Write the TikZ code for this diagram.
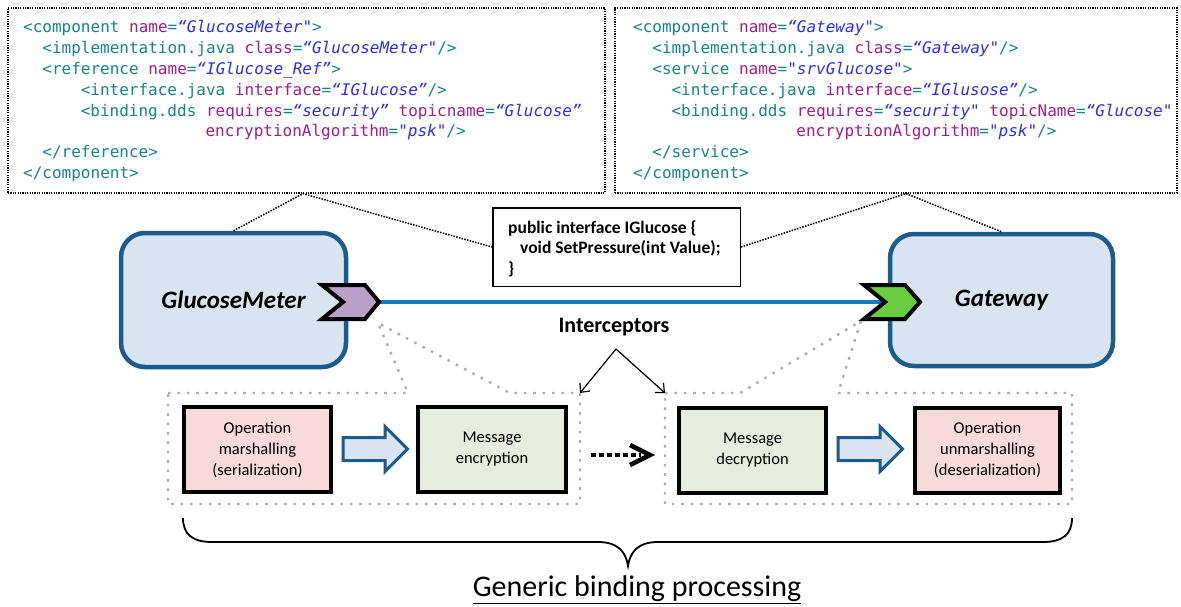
\documentclass[tikz,border=0pt]{standalone}
\usepackage{fontspec}
\setmainfont{Carlito}
\newfontfamily\codefont{DejaVu Sans Mono}
\usetikzlibrary{arrows.meta}
\definecolor{codeteal}{RGB}{22,132,132}
\definecolor{codemag}{RGB}{155,30,140}
\definecolor{codeblue}{RGB}{45,45,225}
\definecolor{compborder}{RGB}{28,92,140}
\definecolor{compfill}{RGB}{216,229,241}
\definecolor{connblue}{RGB}{24,122,190}
\definecolor{portpurple}{RGB}{186,160,200}
\definecolor{portgreen}{RGB}{104,206,64}
\definecolor{opfill}{RGB}{248,218,218}
\definecolor{msgfill}{RGB}{231,237,220}
\newcommand\xtag[1]{\textcolor{codeteal}{#1}}
\newcommand\xatt[1]{\textcolor{codemag}{#1}}
\newcommand\xval[1]{\textcolor{codeblue}{\itshape #1}}
\begin{document}
\begin{tikzpicture}[x=1pt,y=-1pt,
  codebox/.style={draw, dash pattern=on 1.2pt off 1.2pt, line width=1.2pt, minimum width=#1, minimum height=185, inner sep=0},
  codeline/.style={anchor=base west, inner sep=0, font=\codefont\fontsize{16}{20}\selectfont},
  compbox/.style={draw=compborder, fill=compfill, line width=4.5, rounded corners=24, inner sep=0},
  port/.style={draw=black, line width=4, line join=miter},
  conn/.style={draw=connblue, line width=4},
  blackdot/.style={dash pattern=on 1.5pt off 1.3pt, line width=1.5pt},
  callout/.style={draw=black!32, line width=2.4, dash pattern=on 2.6pt off 6.8pt},
  stepbox/.style={draw=black, line width=4, minimum height=85, inner sep=0, align=center, font=\fontsize{16.5}{21}\selectfont},
  blockarrow/.style={draw=compborder, fill=compfill, line width=3, line join=miter},
  pointer/.style={line width=1.2, -{Straight Barb[length=7pt,width=13pt,line width=1.2pt]}},
  ifline/.style={anchor=base west, inner sep=0, font=\bfseries\fontsize{17.5}{20}\selectfont}
]
\useasboundingbox (0,0) rectangle (1181,607);

% code boxes
\node[codebox=597] (codeL) at (306.5,100.5) {};
\node[codebox=562] (codeR) at (896,100.5) {};

\def\cw{9.6}
\node[codeline] (l1) at (23,32.5) {\xtag{<component} \xatt{name}\xtag{=}\xval{“GlucoseMeter"}\xtag{>}};
\node[codeline] (l2) at (23+2*\cw,53.4) {\xtag{<implementation.java} \xatt{class}\xtag{=}\xval{“GlucoseMeter"}\xtag{/>}};
\node[codeline] (l3) at (23+2*\cw,74.3) {\xtag{<reference} \xatt{name}\xtag{=}\xval{“IGlucose\_Ref”}\xtag{>}};
\node[codeline] (l4) at (23+6*\cw,95.2) {\xtag{<interface.java} \xatt{interface}\xtag{=}\xval{“IGlucose”}\xtag{/>}};
\node[codeline] (l5) at (23+6*\cw,116.1) {\xtag{<binding.dds} \xatt{requires}\xtag{=}\xval{“security”} \xatt{topicname}\xtag{=}\xval{“Glucose”}};
\node[codeline] (l6) at (23+19*\cw,137) {\xatt{encryptionAlgorithm}\xtag{=}\xval{"psk"}\xtag{/>}};
\node[codeline] (l7) at (23+2*\cw,157.9) {\xtag{</reference>}};
\node[codeline] (l8) at (23,178.8) {\xtag{</component>}};

\node[codeline] (r1) at (633,32.5) {\xtag{<component} \xatt{name}\xtag{=}\xval{“Gateway"}\xtag{>}};
\node[codeline] (r2) at (633+2*\cw,53.4) {\xtag{<implementation.java} \xatt{class}\xtag{=}\xval{“Gateway"}\xtag{/>}};
\node[codeline] (r3) at (633+2*\cw,74.3) {\xtag{<service} \xatt{name}\xtag{=}\xval{"srvGlucose"}\xtag{>}};
\node[codeline] (r4) at (633+4*\cw,95.2) {\xtag{<interface.java} \xatt{interface}\xtag{=}\xval{“IGlusose”}\xtag{/>}};
\node[codeline] (r5) at (633+4*\cw,116.1) {\xtag{<binding.dds} \xatt{requires}\xtag{=}\xval{“security"} \xatt{topicName}\xtag{=}\xval{“Glucose"}};
\node[codeline] (r6) at (633+17*\cw,137) {\xatt{encryptionAlgorithm}\xtag{=}\xval{"psk"}\xtag{/>}};
\node[codeline] (r7) at (633+2*\cw,157.9) {\xtag{</service>}};
\node[codeline] (r8) at (633,178.8) {\xtag{</component>}};

% callouts (interceptor groups)
\coordinate (cbLne) at (580,393);
\coordinate (cbRnw) at (665,393);
\coordinate (portLfoot) at (378,323);
\coordinate (portRfoot) at (861,321);
\draw[callout] (168,393) -- (408,393) -- (portLfoot) -- (510,393) -- (cbLne) -- (580,504) -- (168,504) -- cycle;
\draw[callout] (cbRnw) -- (740,393) -- (portRfoot) -- (838,393) -- (1072,393) -- (1072,504) -- (665,504) -- cycle;

% components
\node[compbox, minimum width=225, minimum height=134] (gm) at (233.5,300) {\fontsize{25}{30}\selectfont\bfseries\itshape GlucoseMeter};
\node[compbox, minimum width=223, minimum height=132] (gw) at (1001.5,300) {\fontsize{25}{30}\selectfont\bfseries\itshape Gateway};

% interface box
\node[draw=black, line width=1.5, fill=white, minimum width=247.5, minimum height=78.5, inner sep=0] (iface) at (616.5,247) {};
\node[ifline] (if1) at (508,233) {public interface IGlucose \{};
\node[ifline] (if2) at (520,253.5) {void SetPressure(int Value);};
\node[ifline] (if3) at (508,274) {\}};

% dotted association lines
\coordinate (apL) at ([xshift=-3.5]codeL.south);
\coordinate (apR) at ([xshift=10]codeR.south);
\draw[blackdot] (gm.north) -- (apL) -- (iface.west);
\draw[blackdot] (iface.east) -- (apR) -- (gw.north);

% wire and ports
\coordinate (pL) at (379,302);
\coordinate (pR) at (885,302);
\draw[conn] (pL) -- (pR);
\draw[port, fill=portpurple] (322,285) -- (365,285) -- (379,302) -- (365,319) -- (322,319) -- (343,302) -- cycle;
\draw[port, fill=portgreen] (864,285) -- (905,285) -- (920,302) -- (905,319) -- (864,319) -- (pR) -- cycle;

% interceptors label
\node[font=\bfseries\fontsize{22}{24}\selectfont] (icp) at (614,327) {Interceptors};
\coordinate (icpA) at (616,349);
\draw[pointer] (icpA) -- (cbLne);
\draw[pointer] (icpA) -- (cbRnw);

% processing steps
\node[stepbox, fill=opfill, minimum width=147] (om) at (257.5,449.5) {Operation\\marshalling\\(serialization)};
\node[stepbox, fill=msgfill, minimum width=148] (me) at (492,449.5) {Message\\encryption};
\node[stepbox, fill=msgfill, minimum width=147] (md) at (752.5,450) {Message\\decryption};
\node[stepbox, fill=opfill, minimum width=145] (ou) at (987.5,450) {Operation\\unmarshalling\\(deserialization)};

\coordinate (ba1) at (343,449);
\coordinate (ba2) at (838,449);
\draw[blockarrow] (ba1) ++(0,-11.5) -- ++(42,0) -- ++(0,-11) -- ++(22.5,22.5) -- ++(-22.5,22.5) -- ++(0,-11) -- ++(-42,0) -- cycle;
\draw[blockarrow] (ba2) ++(0,-11.5) -- ++(42,0) -- ++(0,-11) -- ++(22.5,22.5) -- ++(-22.5,22.5) -- ++(0,-11) -- ++(-42,0) -- cycle;

% dotted transfer arrow
\coordinate (ta1) at (591,455);
\coordinate (ta2) at (641,455);
\coordinate (tahead) at (650,455);
\draw[line width=4.5, dash pattern=on 4.5pt off 3.5pt] (ta1) -- (ta2);
\draw[line width=4.5, line join=miter] (tahead) ++(-20,-10) -- (tahead) -- ++(-20,10);

% brace
\draw[line width=1.8] (183,518) .. controls (183,534) and (192,542) .. (212,542) -- (598,542) .. controls (618,542) and (626,552) .. (628,566) .. controls (630,552) and (638,542) .. (658,542) -- (1043,542) .. controls (1063,542) and (1072,534) .. (1072,518);
\node[inner sep=0] (gbp) at (637,590) {\fontsize{30}{36}\selectfont\underline{Generic binding processing}};
\end{tikzpicture}
\end{document}
